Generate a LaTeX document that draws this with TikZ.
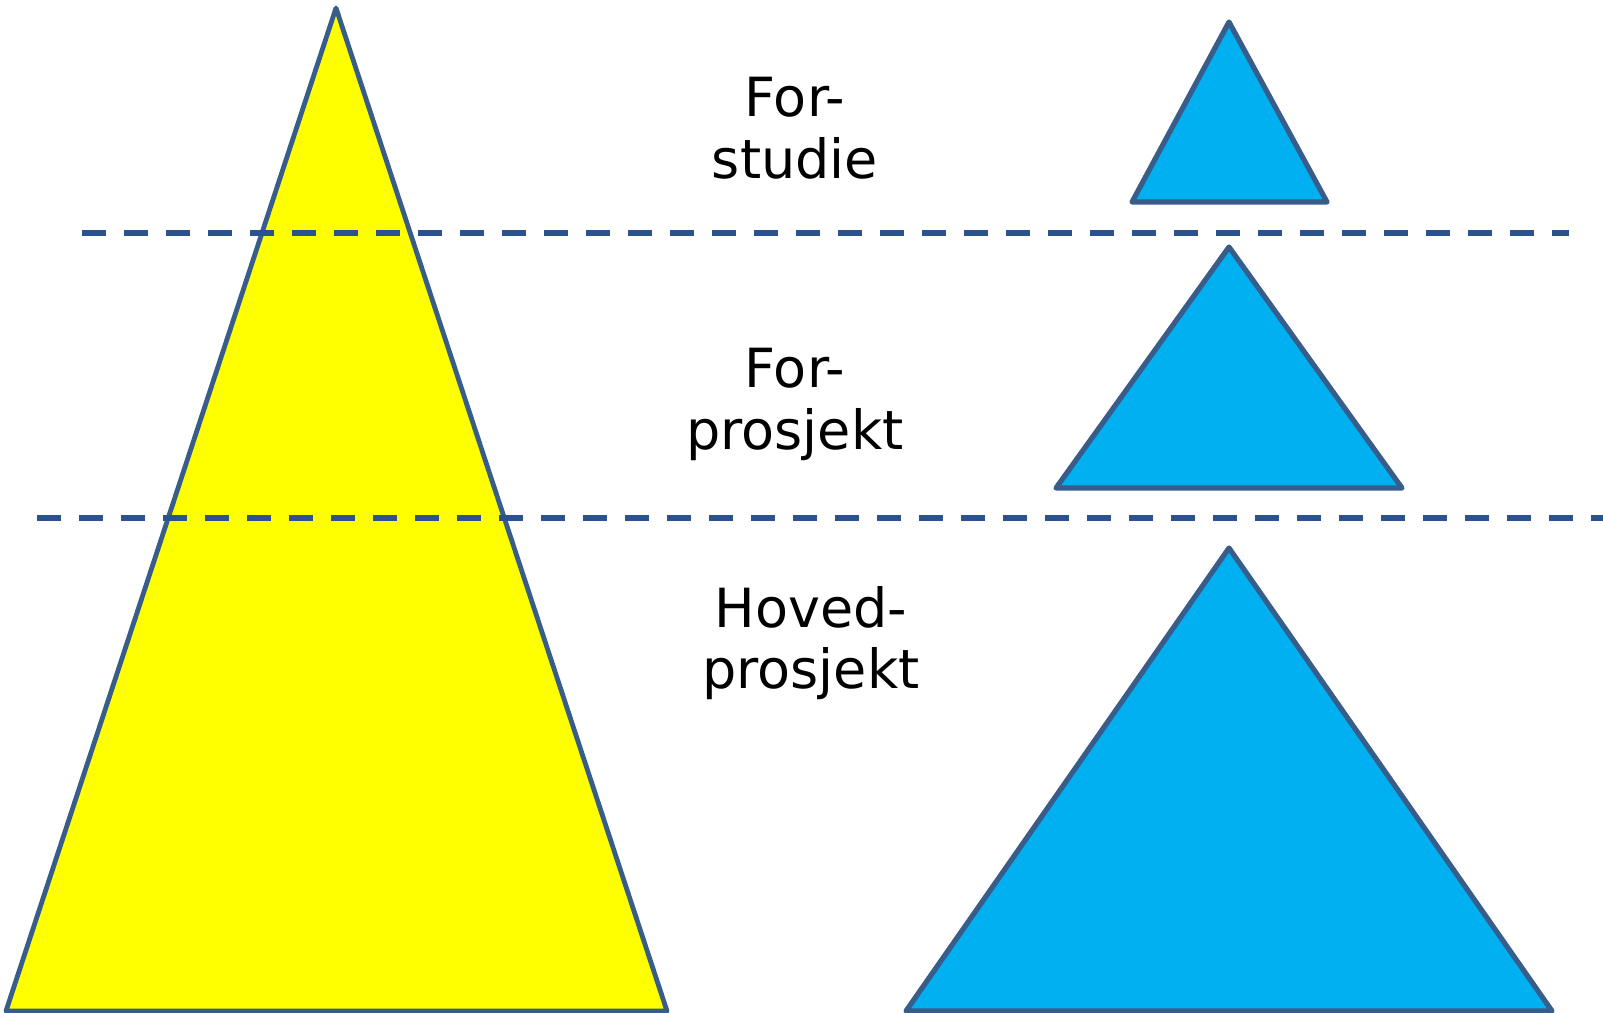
\documentclass[tikz,border=0pt]{standalone}
\usepackage{fontspec}
\setmainfont{DejaVu Sans}
\usepackage{tikz}
\usetikzlibrary{positioning}
\definecolor{edgeblue}{RGB}{56,93,138}
\definecolor{dashblue}{RGB}{41,82,143}
\definecolor{skyfill}{RGB}{0,176,240}
\definecolor{yellowfill}{RGB}{255,255,0}
\tikzstyle{bigtri}    = [draw=edgeblue, line width=2.4pt, line join=round, fill=yellowfill]
\tikzstyle{smalltri}  = [draw=edgeblue, line width=2.6pt, line join=round, fill=skyfill]
\tikzstyle{border}    = [draw=dashblue, line width=3pt, dash pattern=on 12pt off 9pt]
\tikzstyle{phase}     = [anchor=north, inner sep=0pt, align=center, font=\fontsize{27}{30.7}\selectfont]

\begin{document}
\begin{tikzpicture}[x=0.5pt, y=-0.5pt]
    \useasboundingbox (0,0) rectangle (1603,1013);

    \draw[bigtri] (336,8) -- (6,1011) -- (667,1011) -- cycle;

    \draw[smalltri] (1229,22) -- (1132,202) -- (1327,202) -- cycle;
    \draw[smalltri] (1229,247) -- (1056,488) -- (1402,488) -- cycle;
    \draw[smalltri] (1229,548) -- (906,1011) -- (1552,1011) -- cycle;

    \draw[border] (82,233) -- (1569,233);
    \draw[border] (37,518) -- (1603,518);

    \node[phase] (forstudie) at (795,77) {For-\\studie};
    \node[phase] (forprosjekt) at (795,348) {For-\\prosjekt};
    \node[phase] (hovedprosjekt) at (811,586) {Hoved-\\prosjekt};
\end{tikzpicture}
\end{document}
